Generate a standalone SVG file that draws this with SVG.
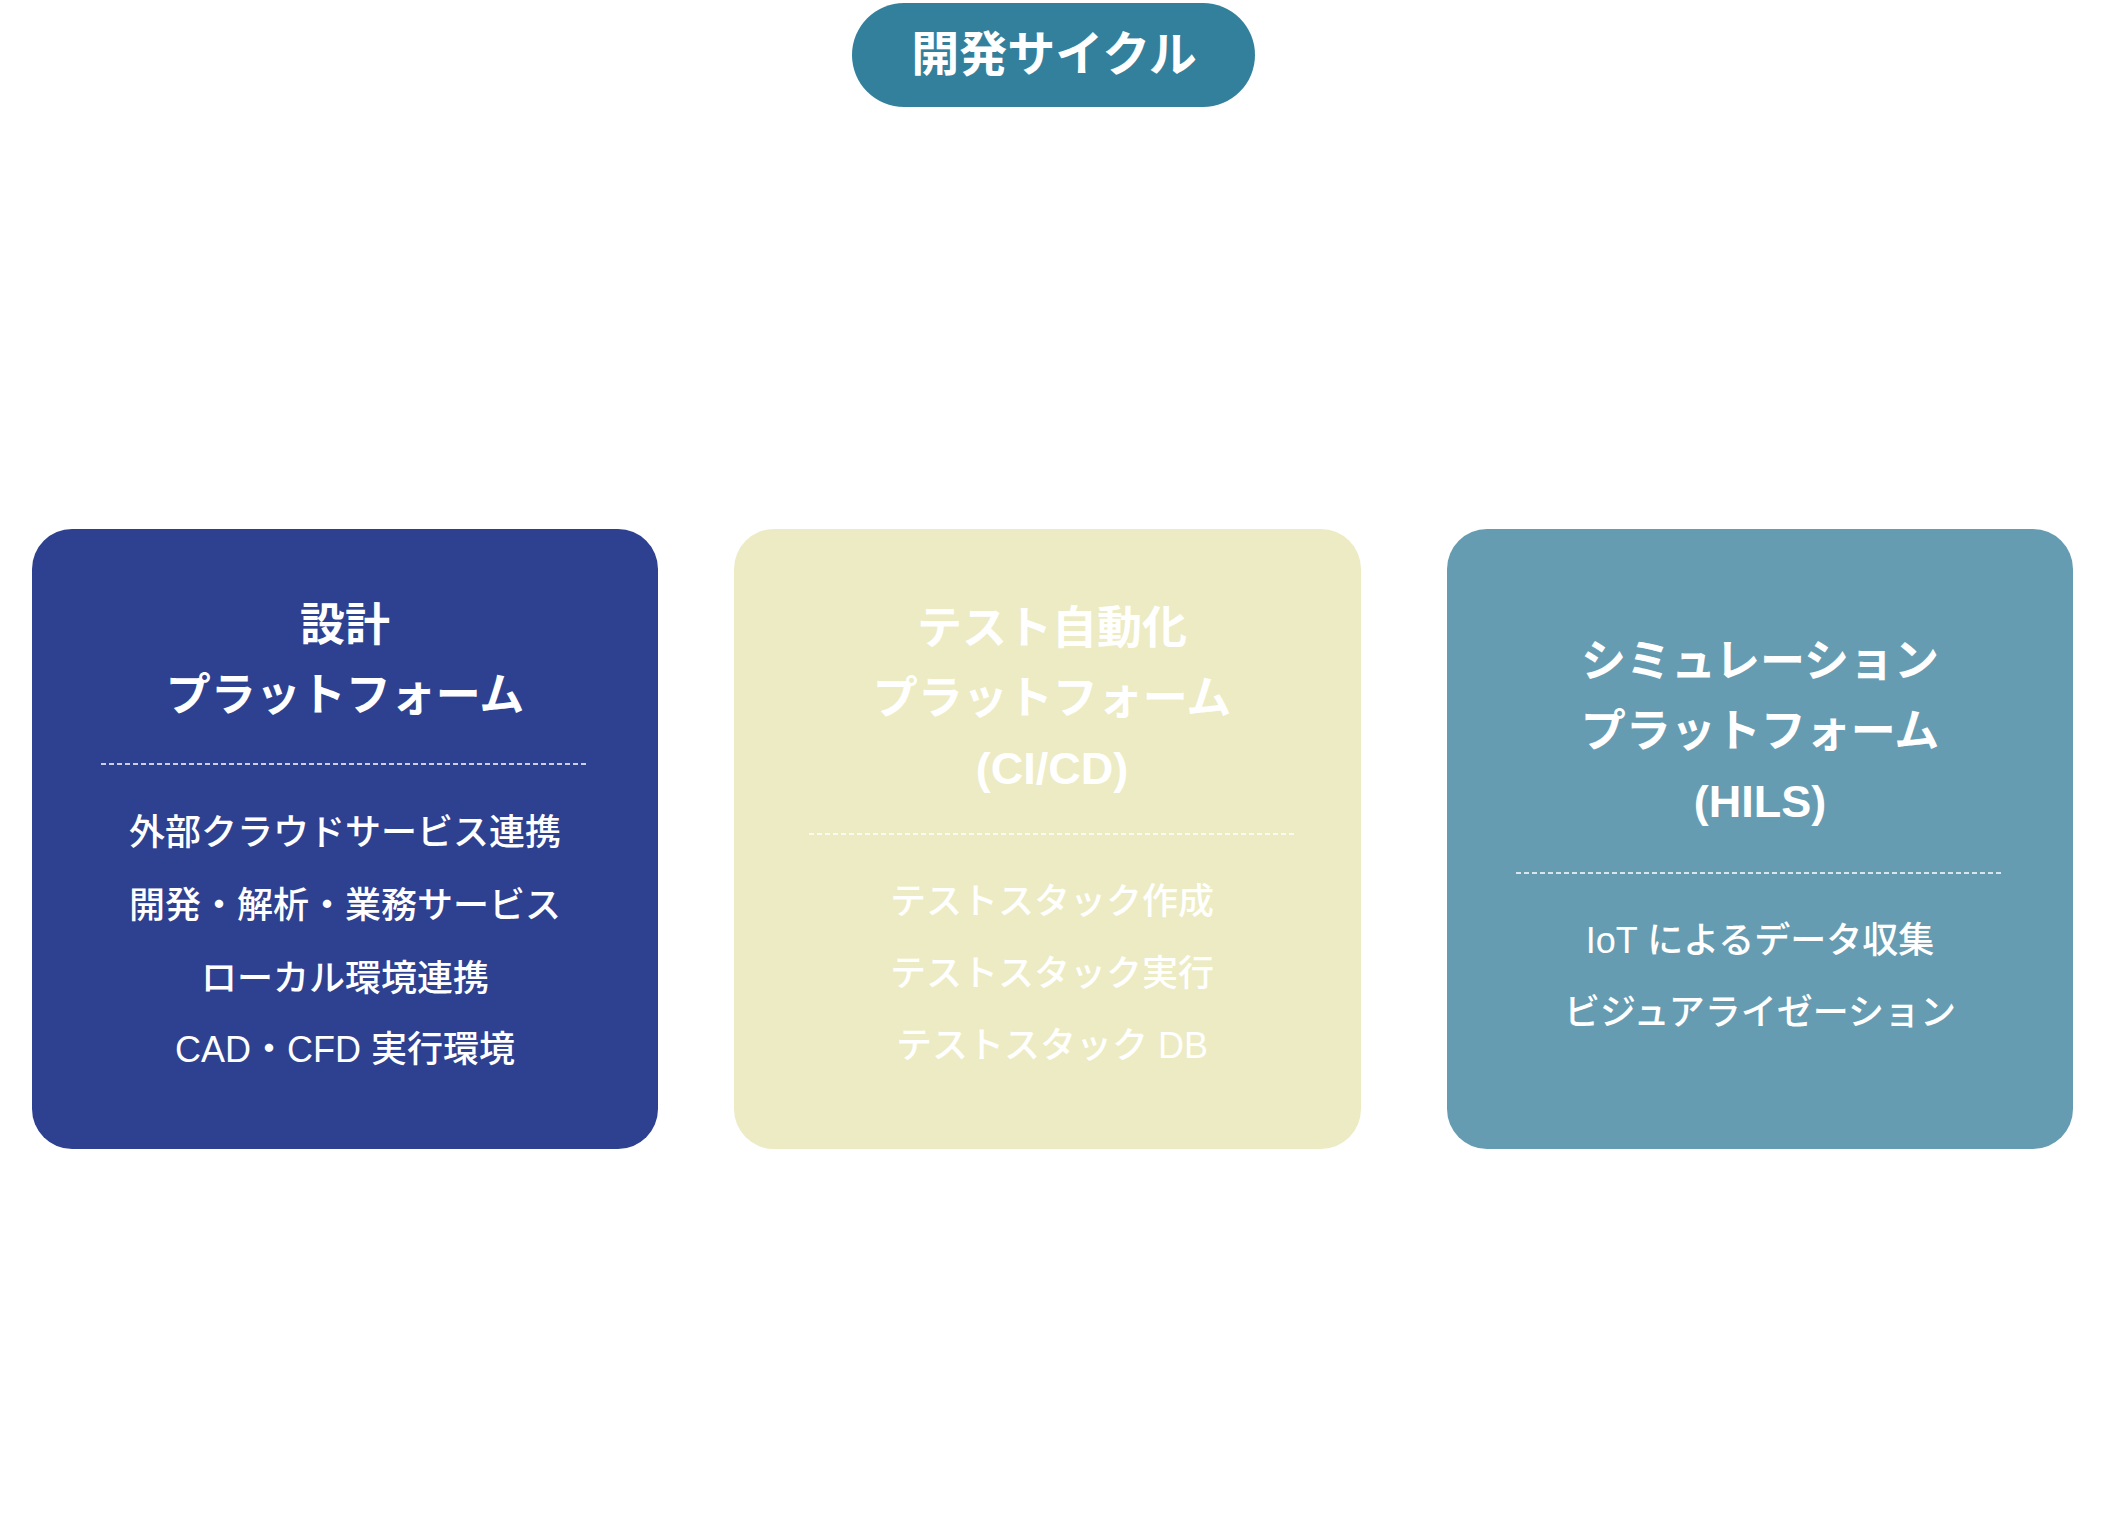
<svg xmlns="http://www.w3.org/2000/svg" width="2106" height="1523" viewBox="0 0 2106 1523">
<style>
text{font-family:"Liberation Sans","Noto Sans CJK JP",sans-serif;fill:#ffffff;text-anchor:middle;dominant-baseline:central}
.hd{font-size:48px;font-weight:700}
.tt{font-size:45px;font-weight:700}
.it{font-size:36px;font-weight:500}
.dash{stroke:#ffffff;stroke-width:1.5;stroke-dasharray:5 3;fill:none}
</style>
<rect width="2106" height="1523" fill="#ffffff"/>
<g id="header">
<rect x="852" y="3" width="403" height="104" rx="52" fill="#33809D"/>
<text class="hd" x="1054" y="54">開発サイクル</text>
</g>
<g id="design">
<rect x="32" y="529" width="626" height="620" rx="40" fill="#2E4191"/>
<text class="tt" x="345" y="625">設計</text>
<text class="tt" x="345" y="695">プラットフォーム</text>
<line class="dash" x1="101" y1="764" x2="589" y2="764"/>
<text class="it" x="345" y="832">外部クラウドサービス連携</text>
<text class="it" x="345" y="905">開発・解析・業務サービス</text>
<text class="it" x="345" y="978">ローカル環境連携</text>
<text class="it" x="345" y="1049">CAD・CFD 実行環境</text>
</g>
<g id="testauto">
<rect x="734" y="529" width="627" height="620" rx="40" fill="#EDEBC3"/>
<text class="tt" x="1052" y="628">テスト自動化</text>
<text class="tt" x="1052" y="698">プラットフォーム</text>
<text class="tt" x="1052" y="768">(CI/CD)</text>
<line class="dash" x1="809" y1="834" x2="1297" y2="834"/>
<text class="it" x="1052" y="901">テストスタック作成</text>
<text class="it" x="1052" y="973">テストスタック実行</text>
<text class="it" x="1052" y="1045">テストスタック DB</text>
</g>
<g id="simulation">
<rect x="1447" y="529" width="626" height="620" rx="40" fill="#669CB2"/>
<text class="tt" x="1760" y="661">シミュレーション</text>
<text class="tt" x="1760" y="731">プラットフォーム</text>
<text class="tt" x="1760" y="801">(HILS)</text>
<line class="dash" x1="1516" y1="873" x2="2004" y2="873"/>
<text class="it" x="1760" y="940">IoT によるデータ収集</text>
<text class="it" x="1760" y="1012">ビジュアライゼーション</text>
</g>
<g id="connectors"></g>
</svg>
